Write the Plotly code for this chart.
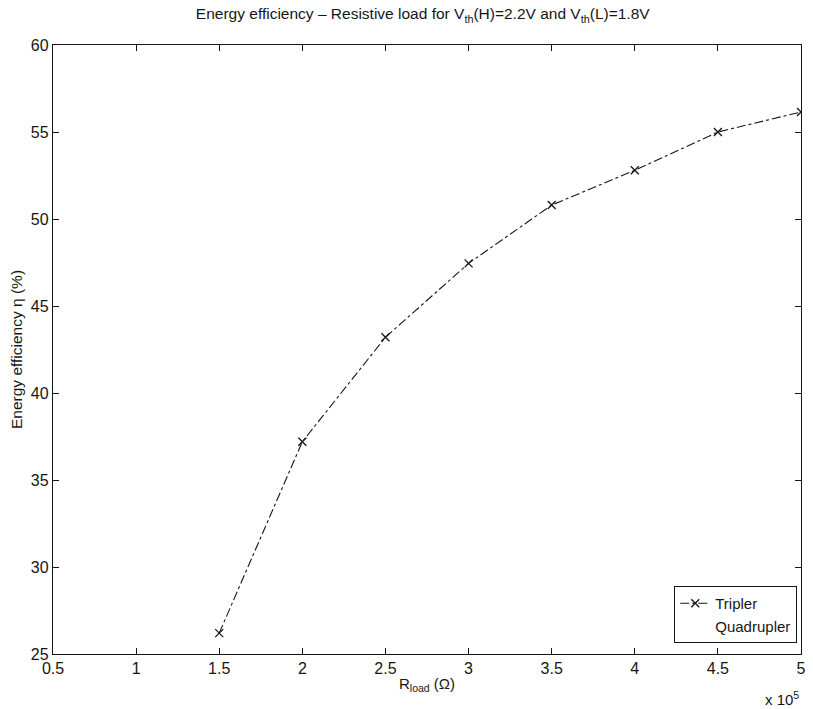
import plotly.graph_objects as go

# Load resistance in units of 1e5 ohm, and measured energy efficiency (%)
r_load = [1.5, 2.0, 2.5, 3.0, 3.5, 4.0, 4.5, 5.0]
eff_tripler = [26.2, 37.2, 43.2, 47.45, 50.8, 52.8, 55.0, 56.15]

x_ticks = [0.5, 1, 1.5, 2, 2.5, 3, 3.5, 4, 4.5, 5]
x_tick_text = ["0.5", "1", "1.5", "2", "2.5", "3", "3.5", "4", "4.5", "5"]
y_ticks = [25, 30, 35, 40, 45, 50, 55, 60]

font_family = "Liberation Sans, Arial, sans-serif"
ink = "#161616"

fig = go.Figure()
fig.add_trace(go.Scatter(
    x=r_load, y=eff_tripler, name="Tripler",
    mode="lines+markers",
    line=dict(color=ink, width=1.1, dash="dashdot"),
    marker=dict(symbol="x-thin", size=8, line=dict(color=ink, width=1.3)),
))
# second legend entry without visible data
fig.add_trace(go.Scatter(
    x=[None], y=[None], name="Quadrupler",
    mode="lines", line=dict(color="rgba(255,255,255,0)", width=1),
))

axis_common = dict(
    showline=True, linecolor=ink, linewidth=1.3, mirror="ticks",
    ticks="inside", ticklen=6, tickcolor=ink, tickwidth=1,
    showgrid=False, zeroline=False,
    tickfont=dict(family=font_family, size=16, color=ink),
)

fig.update_layout(
    width=813, height=709,
    margin=dict(l=53, r=7, t=45, b=55),
    paper_bgcolor="white", plot_bgcolor="white",
    font=dict(family=font_family, color=ink),
    title=dict(
        text="Energy efficiency \u2013 Resistive load for V<sub>th</sub>(H)=2.2V and V<sub>th</sub>(L)=1.8V",
        x=0.52, xanchor="center", y=0.988, yanchor="top",
        font=dict(family=font_family, size=15.5, color=ink),
    ),
    xaxis=dict(range=[0.5, 5], tickvals=x_ticks, ticktext=x_tick_text,
               title=dict(text="R<sub>load</sub> (\u03a9)", standoff=2,
                          font=dict(family=font_family, size=15, color=ink)),
               **axis_common),
    yaxis=dict(range=[25, 60], tickvals=y_ticks,
               title=dict(text="Energy efficiency \u03b7 (%)", standoff=4,
                          font=dict(family=font_family, size=15.5, color=ink)),
               **axis_common),
    legend=dict(
        x=0.995, y=0.018, xanchor="right", yanchor="bottom",
        bgcolor="white", bordercolor=ink, borderwidth=1,
        font=dict(family=font_family, size=15, color=ink),
        tracegroupgap=0, itemwidth=30,
    ),
    showlegend=True,
)

# axis multiplier
fig.add_annotation(
    text="x 10<sup>5</sup>", xref="paper", yref="paper",
    x=1.0, y=-0.055, xanchor="right", yanchor="top", showarrow=False,
    font=dict(family=font_family, size=15, color=ink),
)

fig.write_html("out.html")
